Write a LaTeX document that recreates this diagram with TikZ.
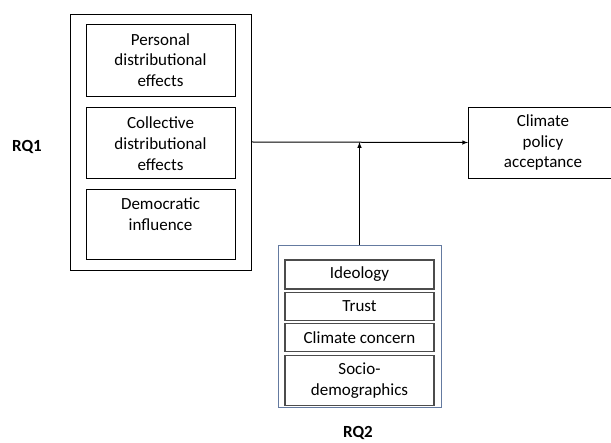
\documentclass[tikz,border=0pt]{standalone}
\usepackage{fontspec}
\setmainfont{Carlito}
\usetikzlibrary{arrows}
\usetikzlibrary{positioning}
\definecolor{rqblue}{RGB}{100,122,160}

\begin{document}
\begin{tikzpicture}[x=1pt,y=-1pt,>=latex,
every node/.style={font=\fontsize{17}{20.8}\selectfont},
box/.style={draw, line width=0.9pt, align=center, inner sep=0pt, minimum width=149pt},
factor/.style={draw=black!70, line width=1.2pt, align=center, inner sep=0pt, minimum width=149pt},
frame/.style={draw, line width=0.9pt, inner sep=0pt}]
\useasboundingbox (0,0) rectangle (611,443);
\clip (0,0) rectangle (611,443);
% RQ1 block
\node[frame, minimum width=181pt, minimum height=256pt] (rqone) at (160.5,142) {};
\node[box, minimum height=72pt] (personal) at (160.5,60) {Personal\\distributional\\effects};
\node[box, minimum height=71pt, below=11pt of personal] (collective) {Collective\\distributional\\effects};
\node[box, minimum height=70pt, below=10pt of collective] (democratic) {Democratic\\influence\\~};
\node[font={\fontsize{17}{20.8}\selectfont\bfseries}] (rqonelabel) at (27,147) {RQ1};
% outcome
\node[box, minimum height=71pt] (accept) at (543,142.5) {Climate\\policy\\acceptance};
% RQ2 block
\node[frame, draw=rqblue, minimum width=163pt, minimum height=162pt] (rqtwo) at (359.5,326) {};
\node[factor, minimum height=29pt] (ideology) at (359.5,274.5) {Ideology};
\node[factor, minimum height=28pt, below=2pt of ideology] (trust) {Trust};
\node[factor, minimum height=28pt, below=2pt of trust] (concern) {Climate concern};
\node[factor, minimum height=50pt, below=3pt of concern] (socio) {Socio-\\demographics};
\node[font={\fontsize{17}{20.8}\selectfont\bfseries}] (rqtwolabel) at (358,433) {RQ2};
\coordinate (join) at (rqtwo.north |- rqone.east);
\draw[->, line width=1pt] (rqone.east) -- (accept.west);
\draw[->, line width=1pt] (rqtwo.north) -- (join);
\end{tikzpicture}
\end{document}
